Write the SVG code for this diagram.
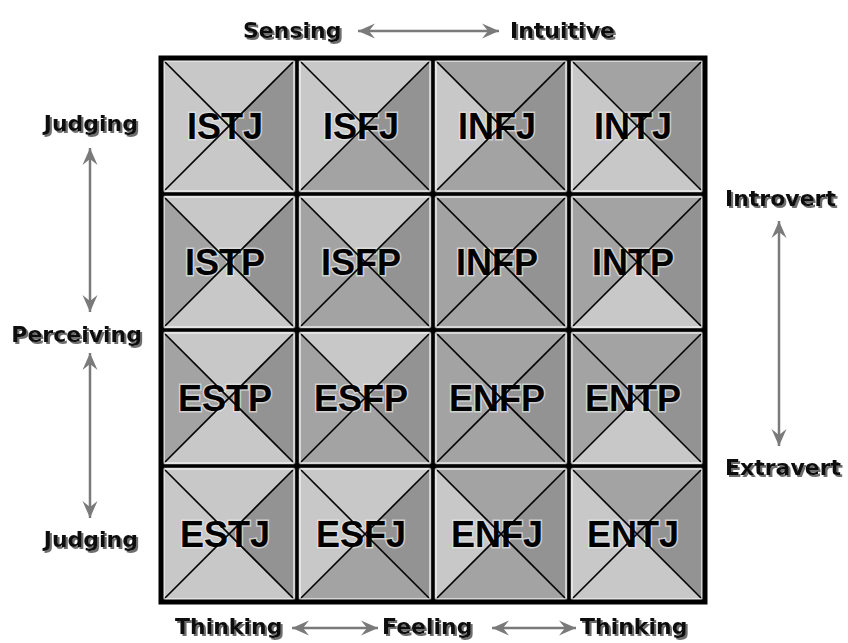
<svg xmlns="http://www.w3.org/2000/svg" xmlns:xlink="http://www.w3.org/1999/xlink" width="848" height="643" viewBox="0 0 848 643">
<defs>
<style>
.L{fill:#c8c8c8}
.D{fill:#a3a3a3}
.R{fill:#939393}
.diag{stroke:#000;stroke-width:1.6;fill:none}
.bev{fill:none;stroke:#f4f4f4;stroke-width:1.6;stroke-opacity:0.8}
.type{font-family:"Liberation Sans",Arial,sans-serif;font-weight:bold;font-size:36px;fill:#000;text-anchor:middle;stroke:#e6e6e6;stroke-width:3;stroke-opacity:0.7;paint-order:stroke}
.ax{font-family:"DejaVu Sans",sans-serif;font-weight:bold;font-size:22px;fill:#111;filter:url(#shadow)}
.arr{stroke:#7a7a7a;stroke-width:2.5;fill:none;marker-start:url(#ah);marker-end:url(#ah)}
.grid{stroke:#000;fill:none}
</style>
<filter id="shadow" x="-10%" y="-30%" width="130%" height="170%">
<feOffset in="SourceAlpha" dx="2" dy="2" result="o"/>
<feFlood flood-color="#6e6e6e"/>
<feComposite in2="o" operator="in"/>
<feMerge><feMergeNode/><feMergeNode in="SourceGraphic"/></feMerge>
</filter>
<marker id="ah" viewBox="-18 -9 20 18" refX="0" refY="0" markerWidth="20" markerHeight="18" markerUnits="userSpaceOnUse" orient="auto-start-reverse">
<path d="M0,0 L-17,-7.5 L-11,0 L-17,7.5 Z" fill="#7a7a7a"/>
</marker>
<g id="cellx">
<path class="diag" d="M0,0 L136,136 M136,0 L0,136"/>
<rect class="bev" x="3" y="3" width="130" height="130"/>
</g>
</defs>
<rect width="848" height="643" fill="#fff"/>

<g id="ISTJ" transform="translate(161,58)">
<polygon class="L" points="0,0 136,0 68,68"/><polygon class="L" points="0,0 0,136 68,68"/><polygon class="R" points="136,0 136,136 68,68"/><polygon class="L" points="0,136 136,136 68,68"/>
<text class="type" x="64" y="81">ISTJ</text><use xlink:href="#cellx"/></g>
<g id="ISFJ" transform="translate(297,58)">
<polygon class="L" points="0,0 136,0 68,68"/><polygon class="L" points="0,0 0,136 68,68"/><polygon class="R" points="136,0 136,136 68,68"/><polygon class="D" points="0,136 136,136 68,68"/>
<text class="type" x="64" y="81">ISFJ</text><use xlink:href="#cellx"/></g>
<g id="INFJ" transform="translate(433,58)">
<polygon class="D" points="0,0 136,0 68,68"/><polygon class="L" points="0,0 0,136 68,68"/><polygon class="R" points="136,0 136,136 68,68"/><polygon class="D" points="0,136 136,136 68,68"/>
<text class="type" x="64" y="81">INFJ</text><use xlink:href="#cellx"/></g>
<g id="INTJ" transform="translate(569,58)">
<polygon class="D" points="0,0 136,0 68,68"/><polygon class="L" points="0,0 0,136 68,68"/><polygon class="R" points="136,0 136,136 68,68"/><polygon class="L" points="0,136 136,136 68,68"/>
<text class="type" x="64" y="81">INTJ</text><use xlink:href="#cellx"/></g>

<g id="ISTP" transform="translate(161,194)">
<polygon class="L" points="0,0 136,0 68,68"/><polygon class="D" points="0,0 0,136 68,68"/><polygon class="R" points="136,0 136,136 68,68"/><polygon class="L" points="0,136 136,136 68,68"/>
<text class="type" x="64" y="81">ISTP</text><use xlink:href="#cellx"/></g>
<g id="ISFP" transform="translate(297,194)">
<polygon class="L" points="0,0 136,0 68,68"/><polygon class="D" points="0,0 0,136 68,68"/><polygon class="R" points="136,0 136,136 68,68"/><polygon class="D" points="0,136 136,136 68,68"/>
<text class="type" x="64" y="81">ISFP</text><use xlink:href="#cellx"/></g>
<g id="INFP" transform="translate(433,194)">
<polygon class="D" points="0,0 136,0 68,68"/><polygon class="D" points="0,0 0,136 68,68"/><polygon class="R" points="136,0 136,136 68,68"/><polygon class="D" points="0,136 136,136 68,68"/>
<text class="type" x="64" y="81">INFP</text><use xlink:href="#cellx"/></g>
<g id="INTP" transform="translate(569,194)">
<polygon class="D" points="0,0 136,0 68,68"/><polygon class="D" points="0,0 0,136 68,68"/><polygon class="R" points="136,0 136,136 68,68"/><polygon class="L" points="0,136 136,136 68,68"/>
<text class="type" x="64" y="81">INTP</text><use xlink:href="#cellx"/></g>

<g id="ESTP" transform="translate(161,330)">
<polygon class="L" points="0,0 136,0 68,68"/><polygon class="D" points="0,0 0,136 68,68"/><polygon class="R" points="136,0 136,136 68,68"/><polygon class="L" points="0,136 136,136 68,68"/>
<text class="type" x="64" y="81">ESTP</text><use xlink:href="#cellx"/></g>
<g id="ESFP" transform="translate(297,330)">
<polygon class="L" points="0,0 136,0 68,68"/><polygon class="D" points="0,0 0,136 68,68"/><polygon class="R" points="136,0 136,136 68,68"/><polygon class="D" points="0,136 136,136 68,68"/>
<text class="type" x="64" y="81">ESFP</text><use xlink:href="#cellx"/></g>
<g id="ENFP" transform="translate(433,330)">
<polygon class="D" points="0,0 136,0 68,68"/><polygon class="D" points="0,0 0,136 68,68"/><polygon class="R" points="136,0 136,136 68,68"/><polygon class="D" points="0,136 136,136 68,68"/>
<text class="type" x="64" y="81">ENFP</text><use xlink:href="#cellx"/></g>
<g id="ENTP" transform="translate(569,330)">
<polygon class="D" points="0,0 136,0 68,68"/><polygon class="D" points="0,0 0,136 68,68"/><polygon class="R" points="136,0 136,136 68,68"/><polygon class="L" points="0,136 136,136 68,68"/>
<text class="type" x="64" y="81">ENTP</text><use xlink:href="#cellx"/></g>

<g id="ESTJ" transform="translate(161,466)">
<polygon class="L" points="0,0 136,0 68,68"/><polygon class="L" points="0,0 0,136 68,68"/><polygon class="R" points="136,0 136,136 68,68"/><polygon class="L" points="0,136 136,136 68,68"/>
<text class="type" x="64" y="81">ESTJ</text><use xlink:href="#cellx"/></g>
<g id="ESFJ" transform="translate(297,466)">
<polygon class="L" points="0,0 136,0 68,68"/><polygon class="L" points="0,0 0,136 68,68"/><polygon class="R" points="136,0 136,136 68,68"/><polygon class="D" points="0,136 136,136 68,68"/>
<text class="type" x="64" y="81">ESFJ</text><use xlink:href="#cellx"/></g>
<g id="ENFJ" transform="translate(433,466)">
<polygon class="D" points="0,0 136,0 68,68"/><polygon class="L" points="0,0 0,136 68,68"/><polygon class="R" points="136,0 136,136 68,68"/><polygon class="D" points="0,136 136,136 68,68"/>
<text class="type" x="64" y="81">ENFJ</text><use xlink:href="#cellx"/></g>
<g id="ENTJ" transform="translate(569,466)">
<polygon class="D" points="0,0 136,0 68,68"/><polygon class="L" points="0,0 0,136 68,68"/><polygon class="R" points="136,0 136,136 68,68"/><polygon class="L" points="0,136 136,136 68,68"/>
<text class="type" x="64" y="81">ENTJ</text><use xlink:href="#cellx"/></g>

<g id="grid" class="grid">
<path stroke-width="3.5" d="M297,58 V602 M433,58 V602 M569,58 V602 M161,194 H705 M161,330 H705 M161,466 H705"/>
<rect x="161" y="58" width="544" height="544" stroke-width="5"/>
</g>

<g id="connectors">
<line class="arr" x1="358" y1="31" x2="499" y2="31"/>
<line class="arr" x1="90" y1="148" x2="90" y2="312"/>
<line class="arr" x1="90" y1="353" x2="90" y2="518"/>
<line class="arr" x1="779" y1="221" x2="779" y2="446"/>
<line class="arr" x1="292" y1="628" x2="378" y2="628"/>
<line class="arr" x1="492" y1="628" x2="576" y2="628"/>
</g>

<g id="labels" class="ax">
<text x="243" y="38">Sensing</text>
<text x="510" y="38">Intuitive</text>
<text x="138" y="131" text-anchor="end">Judging</text>
<text x="142" y="342" text-anchor="end">Perceiving</text>
<text x="138" y="547" text-anchor="end">Judging</text>
<text x="725" y="206">Introvert</text>
<text x="725" y="475">Extravert</text>
<text x="175" y="634">Thinking</text>
<text x="382" y="634">Feeling</text>
<text x="580" y="634">Thinking</text>
</g>
</svg>
